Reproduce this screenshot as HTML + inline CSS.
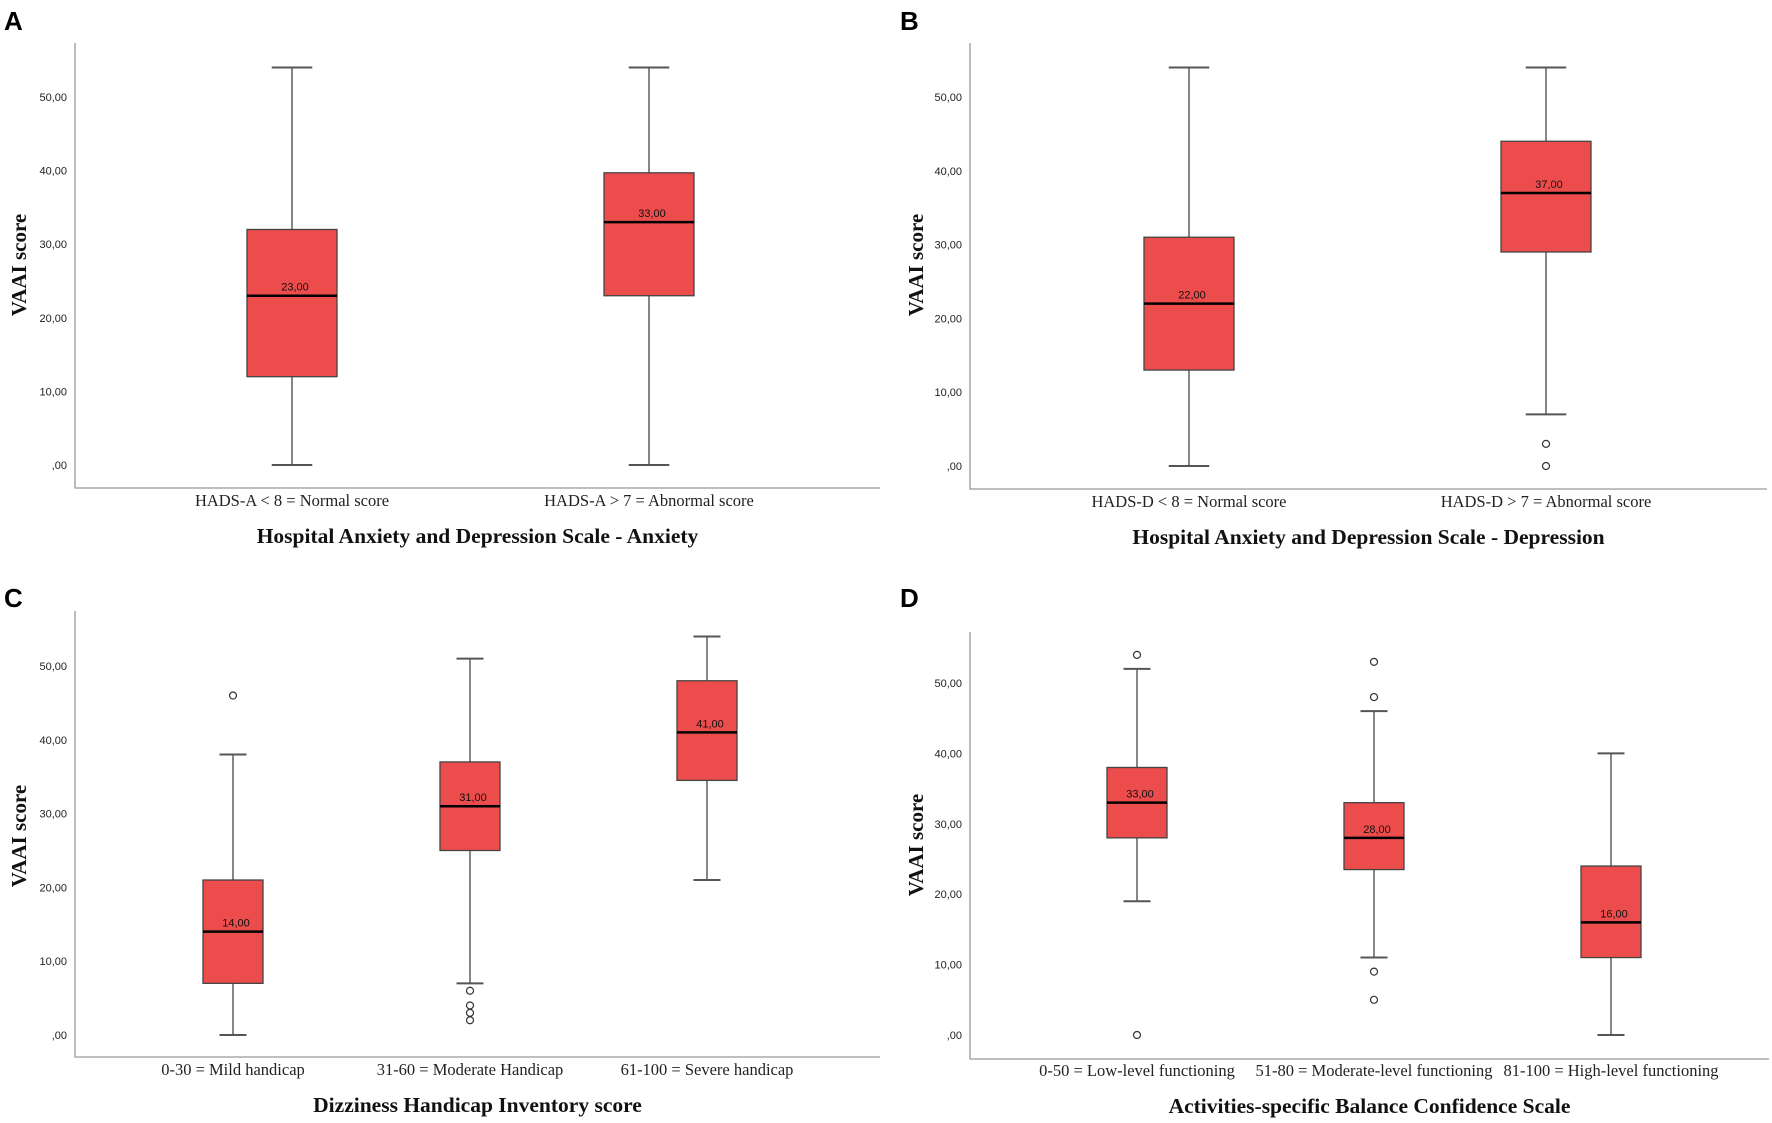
<!DOCTYPE html>
<html><head><meta charset="utf-8">
<style>
html,body{margin:0;padding:0;background:#fff;}
svg{display:block;}
.tick{font-family:"Liberation Sans",sans-serif;font-size:11px;fill:#222;}
.cat{font-family:"Liberation Serif",serif;font-size:16.5px;fill:#222;}
.ttl{font-family:"Liberation Serif",serif;font-size:21.5px;font-weight:bold;fill:#111;}
.yl{font-family:"Liberation Serif",serif;font-size:21px;font-weight:bold;fill:#111;}
.let{font-family:"Liberation Sans",sans-serif;font-size:26px;font-weight:bold;fill:#000;}
.med{font-family:"Liberation Sans",sans-serif;font-size:11px;fill:#111;}
</style></head>
<body>
<svg id="fig" width="1772" height="1123" viewBox="0 0 1772 1123" xmlns="http://www.w3.org/2000/svg"></svg>
<script>
const tickValues = [0,10,20,30,40,50];
const tickLabels = [",00","10,00","20,00","30,00","40,00","50,00"];
const catsA = ["HADS-A < 8 = Normal score","HADS-A > 7 = Abnormal score"];
const statsA = [[0,12,23,32,54],[0,23,33,39.7,54]];
const outA = [[],[]];
const catsB = ["HADS-D < 8 = Normal score","HADS-D > 7 = Abnormal score"];
const statsB = [[0,13,22,31,54],[7,29,37,44,54]];
const outB = [[],[3,0]];
const catsC = ["0-30 = Mild handicap","31-60 = Moderate Handicap","61-100 = Severe handicap"];
const statsC = [[0,7,14,21,38],[7,25,31,37,51],[21,34.5,41,48,54]];
const outC = [[46],[6,4,3,2],[]];
const catsD = ["0-50 = Low-level functioning","51-80 = Moderate-level functioning","81-100 = High-level functioning"];
const statsD = [[19,28,33,38,52],[11,23.5,28,33,46],[0,11,16,24,40]];
const outD = [[54,0],[53,48,9,5],[]];

const NS="http://www.w3.org/2000/svg";
const svg=document.getElementById('fig');
function mk(tag,attrs,parent,text){const e=document.createElementNS(NS,tag);for(const k in attrs)e.setAttribute(k,attrs[k]);if(text!==undefined)e.textContent=text;(parent||svg).appendChild(e);return e;}

const panels=[
 {id:'a',letter:'A',lx:4,ly:30,ax:75,top:43,bot:488,right:880,y0:465,y50:97,cx:[292,649],hw:45,cats:catsA,stats:statsA,outs:outA,title:"Hospital Anxiety and Depression Scale - Anxiety",ylx:20,ylc:265,catY:506,titleY:543},
 {id:'b',letter:'B',lx:900,ly:30,ax:970,top:43,bot:489,right:1767,y0:466,y50:97,cx:[1189,1546],hw:45,cats:catsB,stats:statsB,outs:outB,title:"Hospital Anxiety and Depression Scale - Depression",ylx:917,ylc:265,catY:507,titleY:544},
 {id:'c',letter:'C',lx:4,ly:607,ax:75,top:611,bot:1057,right:880,y0:1035,y50:666,cx:[233,470,707],hw:30,cats:catsC,stats:statsC,outs:outC,title:"Dizziness Handicap Inventory score",ylx:20,ylc:836,catY:1075,titleY:1112},
 {id:'d',letter:'D',lx:900,ly:607,ax:970,top:632,bot:1059,right:1769,y0:1035,y50:683,cx:[1137,1374,1611],hw:30,cats:catsD,stats:statsD,outs:outD,title:"Activities-specific Balance Confidence Scale",ylx:917,ylc:845,catY:1076,titleY:1113}
];

panels.forEach(p=>{
 const g=mk('g',{});
 
 
 const y=v=>p.y0+(p.y50-p.y0)*v/50;
 const L=mk('text',{x:p.lx,y:p.ly,class:'let'},g,p.letter);
 
 
 const ax=mk('path',{d:`M${p.ax},${p.top}V${p.bot}H${p.right}`,stroke:'#999',fill:'none','stroke-width':1.3},g);
 
 
 tickValues.forEach((v,i)=>{
  const t=mk('text',{x:p.ax-8,y:y(v)+4,'text-anchor':'end',class:'tick'},g,tickLabels[i]);
  
  
 });
 const yl=mk('text',{x:p.ylx,y:p.ylc,class:'yl','text-anchor':'middle',transform:`rotate(-90 ${p.ylx} ${p.ylc})`,dy:6},g,'VAAI score');
 
 
 const tt=mk('text',{x:(p.ax+p.right)/2,y:p.titleY,class:'ttl','text-anchor':'middle'},g,p.title);
 
 
 p.stats.forEach((s,i)=>{
  const cx=p.cx[i],hw=p.hw,cw=hw*0.45;
  const bg=mk('g',{},g);
  
  
  mk('line',{x1:cx,x2:cx,y1:y(s[0]),y2:y(s[1]),stroke:'#444','stroke-width':1.3},bg);
  mk('line',{x1:cx,x2:cx,y1:y(s[3]),y2:y(s[4]),stroke:'#444','stroke-width':1.3},bg);
  mk('line',{x1:cx-cw,x2:cx+cw,y1:y(s[0]),y2:y(s[0]),stroke:'#555','stroke-width':2},bg);
  mk('line',{x1:cx-cw,x2:cx+cw,y1:y(s[4]),y2:y(s[4]),stroke:'#555','stroke-width':2},bg);
  mk('rect',{x:cx-hw,y:y(s[3]),width:2*hw,height:y(s[1])-y(s[3]),fill:'#ed4c4c',stroke:'#444','stroke-width':1.3},bg);
  mk('line',{x1:cx-hw,x2:cx+hw,y1:y(s[2]),y2:y(s[2]),stroke:'#000','stroke-width':2.5},bg);
  mk('text',{x:cx+3,y:y(s[2])-5,'text-anchor':'middle',class:'med'},bg,s[2].toFixed(2).replace('.',','));
  p.outs[i].forEach(o=>{
   const c=mk('circle',{cx:cx,cy:y(o),r:3.5,fill:'#fff',stroke:'#333','stroke-width':1.2},bg);
   
   
  });
  const cl=mk('text',{x:cx,y:p.catY,'text-anchor':'middle',class:'cat'},g,p.cats[i]);
  
  
 });
});
</script>
</body></html>
